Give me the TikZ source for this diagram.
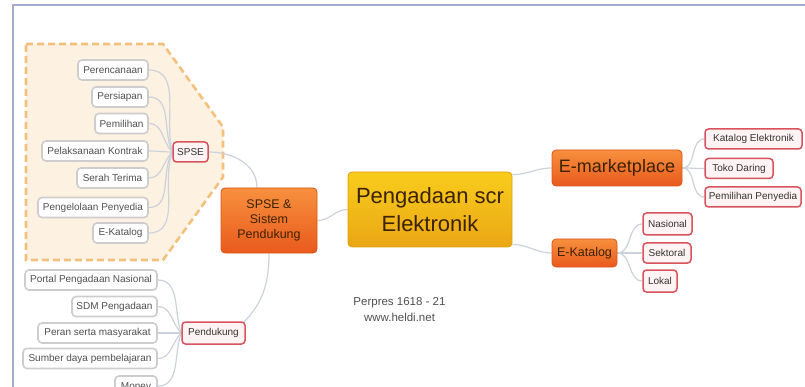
\documentclass[tikz,border=0pt]{standalone}
\usepackage{fontspec}
\setmainfont{Liberation Sans}
\usetikzlibrary{backgrounds}
\definecolor{leafgray}{HTML}{CDCDCD}
\definecolor{textgray}{HTML}{505050}
\definecolor{redb}{HTML}{D9535F}
\definecolor{pinkf}{HTML}{FFF3F3}
\definecolor{conn}{HTML}{CBD2DC}
\definecolor{orTop}{HTML}{F7903E}
\definecolor{orBot}{HTML}{E95A1C}
\definecolor{orBorder}{HTML}{D9561A}
\definecolor{goTop}{HTML}{F9CC1C}
\definecolor{goBot}{HTML}{EAA715}
\definecolor{goBorder}{HTML}{DFA010}
\definecolor{brownTxt}{HTML}{3B2200}
\definecolor{regFill}{HTML}{FDF1E2}
\definecolor{regDash}{HTML}{F3C07E}
\definecolor{frameC}{HTML}{A3AACB}
\begin{document}
\begin{tikzpicture}[x=1pt,y=-1pt,
  gleaf/.style={draw=leafgray, line width=1.6pt, fill=white, rounded corners=4pt,
    font=\fontsize{10}{11}\selectfont, text=textgray, inner sep=0pt, minimum height=20pt},
  rleaf/.style={draw=redb, line width=1.5pt, fill=pinkf, rounded corners=3.5pt,
    font=\fontsize{10}{11}\selectfont, text=black!80, inner sep=0pt, minimum height=20pt},
  orbox/.style={draw=orBorder, line width=0.8pt, top color=orTop, bottom color=orBot,
    rounded corners=4pt, text=brownTxt, inner sep=0pt, align=center},
  gobox/.style={draw=goBorder, line width=0.8pt, top color=goTop, bottom color=goBot,
    rounded corners=4pt, text=brownTxt, inner sep=0pt, align=center},
  link/.style={draw=conn, line width=1.2pt},
  note/.style={text=textgray, font=\fontsize{11.5}{16}\selectfont}
]
\useasboundingbox (0,0) rectangle (805,387);
\clip (0,0) rectangle (805,387);

% central nodes
\node[gobox, minimum width=164pt, minimum height=75pt, font=\fontsize{22}{28}\selectfont] (main) at (430,209.5) {Pengadaan scr\\Elektronik};
\node[orbox, minimum width=96pt, minimum height=65pt, font=\fontsize{12.5}{15}\selectfont] (sp) at (269,220.5) {SPSE \&\\Sistem\\Pendukung};
\node[orbox, minimum width=130pt, minimum height=36pt, font=\fontsize{18}{20}\selectfont] (emp) at (617,168) {E-marketplace};
\node[orbox, minimum width=65pt, minimum height=28pt, font=\fontsize{12.5}{14}\selectfont] (ekat) at (584.5,253) {E-Katalog};

% right leaves
\node[rleaf, minimum width=97pt] (katel) at (753.5,139) {Katalog Elektronik};
\node[rleaf, minimum width=68pt] (toko) at (739,168.5) {Toko Daring};
\node[rleaf, minimum width=96pt] (pempen) at (753,197) {Pemilihan Penyedia};
\node[rleaf, minimum width=49pt, minimum height=22pt] (nas) at (667.5,224) {Nasional};
\node[rleaf, minimum width=48pt] (sek) at (667,253) {Sektoral};
\node[rleaf, minimum width=34pt, minimum height=22pt] (lok) at (660,281) {Lokal};

% SPSE group
\node[rleaf, minimum width=35pt] (spse) at (190.5,152) {SPSE};
\node[gleaf, minimum width=70pt] (l1) at (113,70) {Perencanaan};
\node[gleaf, minimum width=56pt] (l2) at (120,97) {Persiapan};
\node[gleaf, minimum width=53pt] (l3) at (121.5,123.5) {Pemilihan};
\node[gleaf, minimum width=106pt] (l4) at (95,151) {Pelaksanaan Kontrak};
\node[gleaf, minimum width=71pt] (l5) at (112.5,178) {Serah Terima};
\node[gleaf, minimum width=110pt] (l6) at (93,207.5) {Pengelolaan Penyedia};
\node[gleaf, minimum width=55pt] (l7) at (120.5,233) {E-Katalog};

% Pendukung group
\node[rleaf, minimum width=63pt, minimum height=22pt] (pend) at (213.5,333) {Pendukung};
\node[gleaf, minimum width=132pt] (p1) at (91,280) {Portal Pengadaan Nasional};
\node[gleaf, minimum width=85pt] (p2) at (114.5,306.5) {SDM Pengadaan};
\node[gleaf, minimum width=119pt] (p3) at (97.5,333) {Peran serta masyarakat};
\node[gleaf, minimum width=134pt] (p4) at (90,358.5) {Sumber daya pembelajaran};
\node[gleaf, minimum width=42pt] (p5) at (136,386) {Monev};

% notes
\node[note, align=center] (perpres) at (399.5,310) {Perpres 1618 - 21\\www.heldi.net};

\begin{scope}[on background layer]
  \fill[white] (0,0) rectangle (805,387);
  % dashed group region
  \filldraw[fill=regFill, draw=regDash, line width=2.6pt, dash pattern=on 7pt off 4pt]
    (26,44) -- (163,44) -- (223,127) -- (223,177) -- (163,260) -- (26,260) -- cycle;
  % connectors
  \draw[link] (sp.east) to[out=0,in=180] (main.west);
  \draw[link] ([yshift=-3pt]main.north east) to[out=0,in=180] (emp.west);
  \draw[link] ([yshift=3pt]main.south east) to[out=0,in=180] (ekat.west);
  \foreach \n in {katel,toko,pempen} \draw[link] (emp.east) to[out=0,in=180] (\n.west);
  \foreach \n in {nas,sek,lok} \draw[link] (ekat.east) to[out=0,in=180] (\n.west);
  \draw[link] (spse.east) to[out=0,in=90] ([xshift=-12pt]sp.north);
  \draw[link] (sp.south) to[out=-90,in=45] ([xshift=-3pt,yshift=-2pt]pend.north east);
  \foreach \n/\a in {l1/105,l2/115,l3/135,l4/180,l5/225,l6/240,l7/250}
    \draw[link] (\n.east) to[out=0,in=\a] (spse.west);
  \foreach \n/\a in {p1/110,p2/135,p3/180,p4/225,p5/250}
    \draw[link] (\n.east) to[out=0,in=\a] (pend.west);
\end{scope}

% frame
\draw[frameC, line width=2pt] (12.5,400) -- (12.5,5.5) -- (810,5.5);
\end{tikzpicture}
\end{document}
